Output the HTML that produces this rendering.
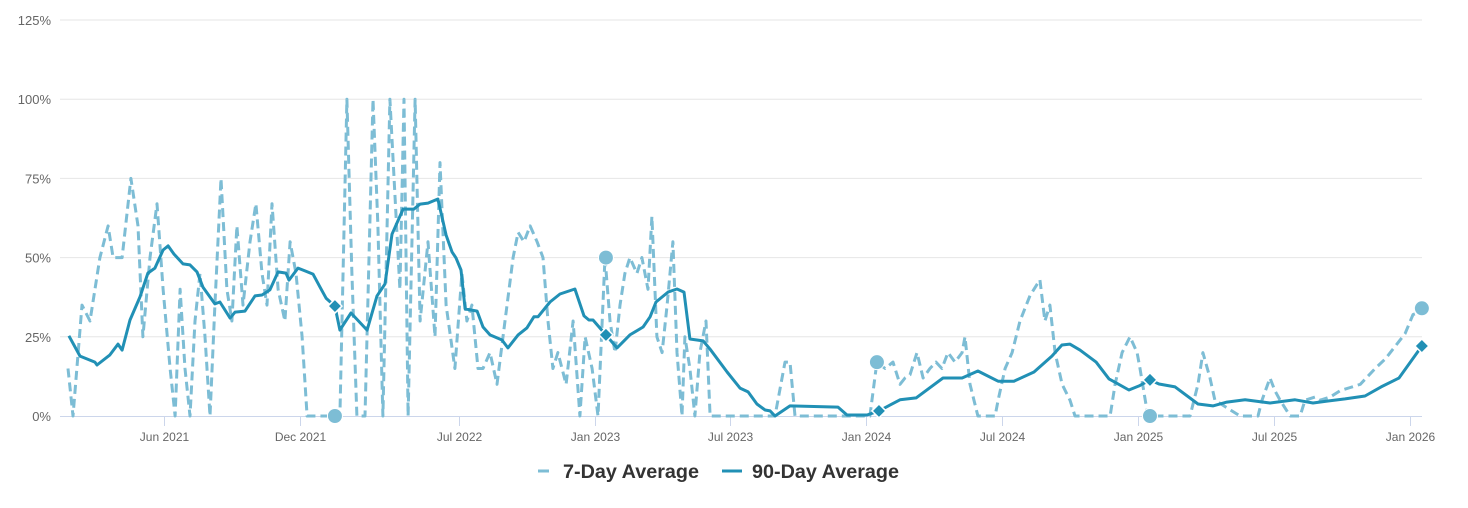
<!DOCTYPE html>
<html><head><meta charset="utf-8"><style>
html,body{margin:0;padding:0;background:#fff;}
svg{display:block;font-family:"Liberation Sans",Arial,sans-serif;}
</style></head><body>
<svg id="chart" width="1468" height="508">
<g id="grid"></g>
<g id="yaxis"></g>
<g id="xaxis"></g>
<g id="series"></g>
<g id="legend">
  <g>
    <line x1="538" y1="471" x2="549" y2="471" stroke="#7dbdd5" stroke-width="3"/>
    <text x="563" y="478" font-size="19.8" font-weight="bold" fill="#333">7-Day Average</text>
  </g>
  <g>
    <line x1="722" y1="471" x2="742" y2="471" stroke="#2190b5" stroke-width="3"/>
    <text x="752" y="478" font-size="19.8" font-weight="bold" fill="#333">90-Day Average</text>
  </g>
</g>
</svg>
<script>
// months since Jan 2021
const avg7Months = [0.74,0.96,1.36,1.71,2.15,2.51,2.73,3.13,3.52,3.83,4.05,4.36,4.67,4.94,5.25,5.47,5.69,5.91,6.13,6.35,6.57,6.79,7.01,7.23,7.50,7.76,7.98,8.20,8.47,8.78,9.04,9.31,9.53,9.75,10.02,10.32,10.55,10.81,11.08,11.30,11.52,12.31,12.75,13.06,13.28,13.50,13.86,14.21,14.43,14.65,14.96,15.18,15.40,15.58,15.76,16.07,16.29,16.64,16.95,17.17,17.44,17.83,18.14,18.36,18.58,18.85,19.07,19.38,19.69,20.04,20.40,20.62,20.88,21.15,21.46,21.72,21.94,22.16,22.38,22.74,23.05,23.35,23.58,23.89,24.15,24.46,24.68,24.90,25.12,25.34,25.56,25.87,26.09,26.36,26.53,26.75,26.98,27.20,27.46,27.64,27.86,27.99,28.21,28.43,28.65,28.92,29.10,29.32,31.31,31.97,32.41,32.63,32.85,35.72,36.16,36.47,36.83,37.18,37.49,37.71,37.93,38.24,38.51,38.81,39.08,39.34,39.61,39.92,40.23,40.36,40.58,40.93,41.24,41.69,41.82,42.13,42.44,42.79,43.23,43.67,43.89,44.11,44.34,44.65,45.00,45.22,46.32,46.77,46.99,47.30,47.65,47.96,48.09,48.44,48.97,50.30,50.65,50.87,51.18,51.40,51.84,52.51,53.04,53.30,53.48,53.83,54.05,54.28,54.72,55.16,55.38,55.83,56.05,56.49,56.93,57.38,57.82,58.48,58.92,59.36,59.80,60.15,60.54];
const avg7Values = [15,0,35,30,50,60,50,50,75,60,25,50,67,40,15,0,40,15,0,30,45,25,0,35,75,40,30,60,35,55,67,45,35,67,40,30,55,45,25,0,0,0,0,100,45,0,0,100,60,0,100,70,40,100,0,100,30,55,25,80,35,15,45,30,35,15,15,20,10,30,50,58,55,60,55,50,30,15,20,10,30,0,25,15,0,50,30,20,35,45,50,45,50,40,63,25,20,35,55,20,0,25,15,0,20,30,0,0,0,0,17,17,0,0,0,17,15,17,10,12,13,20,12,15,17,15,20,17,20,25,10,0,0,0,5,15,20,30,38,43,30,35,20,10,5,0,0,0,10,20,25,20,15,0,0,0,10,20,12,5,3,0,0,0,5,12,8,5,0,0,5,6,5,6,8,9,10,15,18,22,26,32,33];
const avg90Months = [0.78,1.27,1.93,2.02,2.59,2.95,3.13,3.48,3.92,4.27,4.58,4.94,5.16,5.42,5.82,6.13,6.44,6.70,7.23,7.45,7.90,8.12,8.56,9.00,9.31,9.66,10.02,10.37,10.50,10.90,11.21,11.56,11.87,12.14,12.53,12.75,13.24,13.95,14.39,14.74,15.05,15.54,16.02,16.29,16.64,17.08,17.44,17.70,17.88,18.10,18.28,18.81,19.07,19.38,19.91,20.17,20.62,21.01,21.32,21.50,22.03,22.47,23.13,23.53,23.75,23.93,24.50,24.99,25.56,26.14,26.45,26.71,27.24,27.64,27.95,28.21,28.79,29.10,29.85,30.42,30.78,31.17,31.53,31.75,31.97,32.63,34.75,35.15,36.03,36.56,37.49,38.20,39.39,40.23,40.93,41.82,42.52,43.41,44.20,44.64,44.99,45.44,46.15,46.72,47.60,48.05,48.53,48.93,49.64,50.65,51.31,51.93,52.73,53.83,54.94,55.73,56.35,57.15,58.03,58.74,59.53,60.54];
const avg90Values = [25.3,18.9,17.0,16.1,19.3,22.7,20.8,30.3,37.6,45.1,46.7,52.4,53.7,51.1,48.0,47.7,45.5,40.7,35.4,36.0,30.9,32.8,33.1,37.9,38.2,39.8,45.5,45.1,42.9,46.7,45.8,44.8,40.7,37.2,34.7,27.1,32.5,27.1,37.9,41.7,57.4,65.3,65.3,66.9,67.2,68.5,57.1,51.8,49.9,46.1,33.8,33.1,28.1,25.6,24.0,21.5,25.6,27.8,31.3,31.3,36.0,38.5,40.1,31.6,30.3,30.3,25.6,21.5,25.6,28.1,31.3,36.0,39.1,40.1,39.1,24.3,23.7,21.1,13.9,8.8,7.6,3.8,1.9,1.6,0,3.2,2.8,0.3,0.3,1.6,5.1,5.7,12.0,12.0,14.2,11.0,11.0,13.9,18.9,22.4,22.7,20.8,17.0,11.7,8.2,9.5,11.4,10.1,9.2,3.8,3.2,4.4,5.1,4.1,5.1,4.1,4.7,5.4,6.3,9.2,12.0,22.1];
const markerMonths7 = [12.53,24.50,36.47,48.53,60.54];
const markerValues7 = [0,50,17,0,34];
const markerMonths90 = [12.53,24.50,36.56,48.53,60.54];
const markerValues90 = [34.7,25.6,1.6,11.4,22.1];
const yTicks = [0,25,50,75,100,125];
const xTickMonths = [5,11,18,24,30,36,42,48,54,60];
const xTickLabels = ["Jun 2021","Dec 2021","Jul 2022","Jan 2023","Jul 2023","Jan 2024","Jul 2024","Jan 2025","Jul 2025","Jan 2026"];

const NS="http://www.w3.org/2000/svg";
const X0=68, PXM=22.64, M0=0.74, Y0=416, PXV=3.168;
const xs=m=>X0+(m-M0)*PXM;
const ys=v=>Y0-Math.min(v,100.5)*PXV;
function mk(tag,attrs,parent){const e=document.createElementNS(NS,tag);for(const k in attrs)e.setAttribute(k,attrs[k]);parent.appendChild(e);return e;}
const grid=document.getElementById('grid'),yax=document.getElementById('yaxis'),xax=document.getElementById('xaxis'),ser=document.getElementById('series');
yTicks.forEach(t=>{
  const y=Y0-t*PXV;
  if(t>0){const l=mk('line',{x1:60,x2:1422,y1:y,y2:y,stroke:'#e6e6e6','stroke-width':1},grid);
  
  }
  const tx=mk('text',{x:51,y:y+5,'text-anchor':'end','font-size':13,fill:'#666'},yax);
  tx.textContent=t+'%';
  
  
});
const ax=mk('line',{x1:60,x2:1422,y1:Y0+0.5,y2:Y0+0.5,stroke:'#ccd6eb','stroke-width':1},xax);


xTickMonths.forEach((m,i)=>{
  const x=Math.round(xs(m))+0.5;
  const tk=mk('line',{x1:x,x2:x,y1:Y0,y2:Y0+10,stroke:'#ccd6eb','stroke-width':1},xax);
  
  
  const tx=mk('text',{x:x,y:441,'text-anchor':'middle','font-size':12,fill:'#666'},xax);
  tx.textContent=xTickLabels[i];
  
  
});
function pathOf(ms,vs){return ms.map((m,i)=>(i?'L':'M')+xs(m).toFixed(1)+','+ys(vs[i]).toFixed(1)).join(' ');}
const p7=mk('path',{d:pathOf(avg7Months,avg7Values),fill:'none',stroke:'#7dbdd5','stroke-width':3,'stroke-dasharray':'9,5','stroke-linejoin':'round'},ser);


const p90=mk('path',{d:pathOf(avg90Months,avg90Values),fill:'none',stroke:'#2190b5','stroke-width':3,'stroke-linejoin':'round'},ser);


markerMonths7.forEach((m,i)=>{
  const c=mk('circle',{cx:xs(m),cy:ys(markerValues7[i]),r:7.5,fill:'#7dbdd5',stroke:'#fff','stroke-width':1},ser);
  
  
});
markerMonths90.forEach((m,i)=>{
  const x=xs(m),y=ys(markerValues90[i]),s=7;
  const d=mk('path',{d:`M${x},${y-s}L${x+s},${y}L${x},${y+s}L${x-s},${y}Z`,fill:'#2190b5',stroke:'#fff','stroke-width':1.5},ser);
  
  
});
</script>
</body></html>
